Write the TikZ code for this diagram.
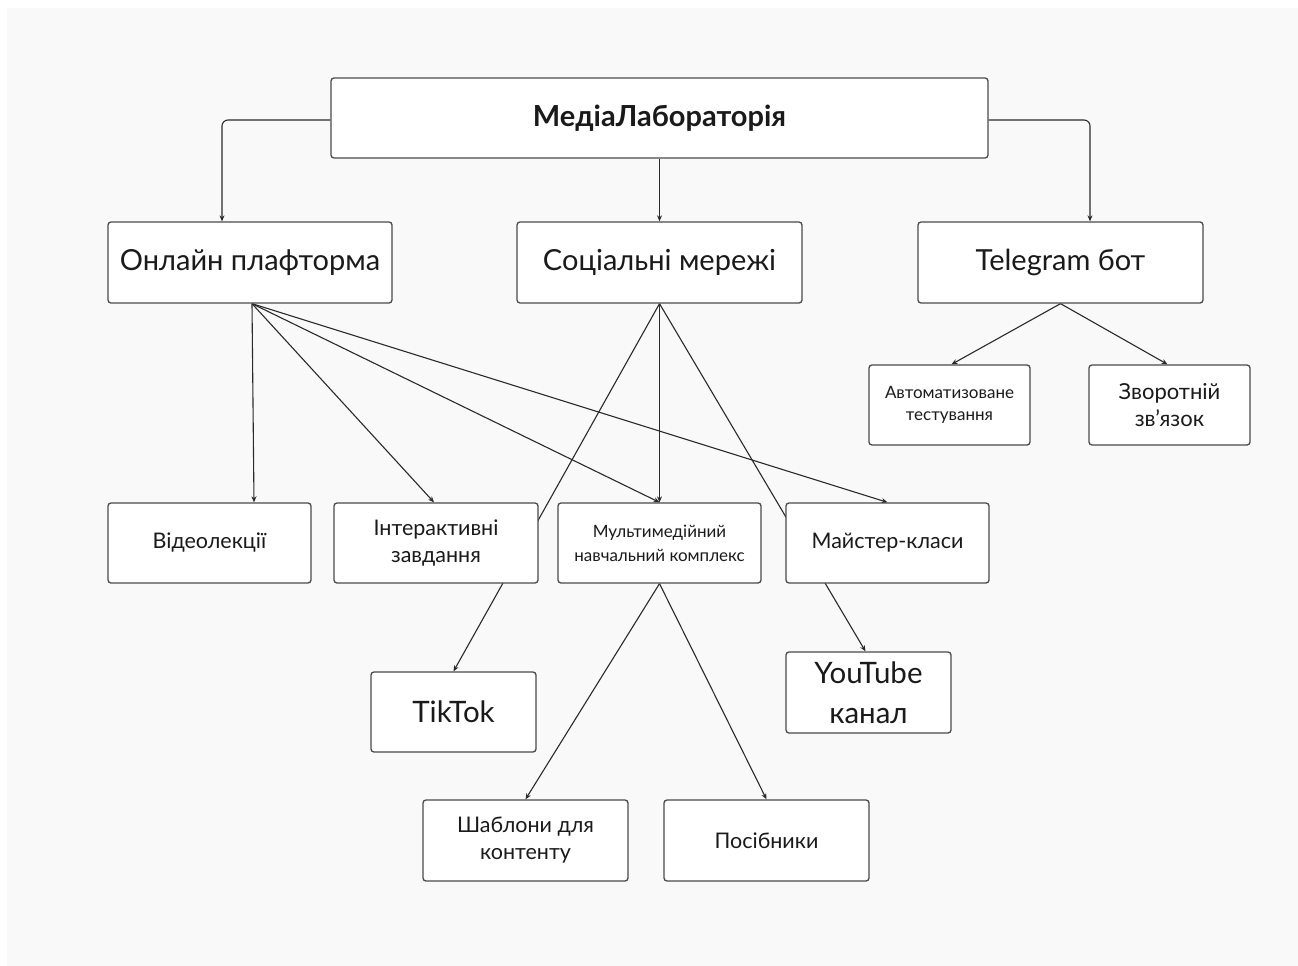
\documentclass[tikz,border=0pt]{standalone}
\usepackage{fontspec}
\setmainfont{Lato}
\usetikzlibrary{arrows.meta,calc}
\pgfdeclarelayer{back}
\pgfdeclarelayer{bg}
\pgfsetlayers{back,bg,main}
\definecolor{pagegray}{HTML}{F9F9F9}
\definecolor{boxline}{HTML}{4A4A4A}
\definecolor{txt}{HTML}{1A1A1A}
\definecolor{arrowc}{HTML}{2A2A2A}
\begin{document}
\begin{tikzpicture}[x=1pt,y=-1pt,
  box/.style={draw=boxline, line width=1.3pt, fill=white, rounded corners=3pt, text=txt, align=center, inner sep=0pt},
  arr/.style={draw=arrowc, line width=1.1pt, -{Stealth[length=6pt,width=5pt]}},
  fA/.style={font=\fontsize{29}{35}\selectfont},
  fB/.style={font=\fontsize{29.5}{40}\selectfont},
  fC/.style={font=\fontsize{21.5}{27}\selectfont},
  fD/.style={font=\fontsize{17}{24}\selectfont},
  fE/.style={font=\fontsize{17}{22}\selectfont},
  fZ/.style={font=\fontsize{22}{27}\selectfont},
  ]
\useasboundingbox (0,0) rectangle (1298,966);
\begin{pgfonlayer}{back}
\fill[white] (0,0) rectangle (1298,966);
\fill[pagegray] (7,8) rectangle (1298,966);
\end{pgfonlayer}

\node[box, minimum width=657pt, minimum height=80pt, font=\bfseries\fontsize{29}{34}\selectfont] (media) at (659.5,118) {МедіаЛабораторія};

\node[box, fA, minimum width=284pt, minimum height=81pt] (onl) at (250,262.5) {Онлайн плафторма};
\node[box, fA, minimum width=285pt, minimum height=81pt] (soc) at (659.5,262.5) {Соціальні мережі};
\node[box, fA, minimum width=285pt, minimum height=81pt] (tg) at (1060.5,262.5) {Telegram бот};

\node[box, fE, minimum width=161pt, minimum height=80pt] (auto) at (949.5,405) {Автоматизоване\\тестування};
\node[box, fZ, minimum width=161pt, minimum height=80pt] (zv) at (1169.5,405) {Зворотній\\зв’язок};

\node[box, fC, minimum width=203pt, minimum height=80pt] (video) at (209.5,543) {Відеолекції};
\node[box, fC, minimum width=204pt, minimum height=80pt] (inter) at (436,543) {Інтерактивні\\завдання};
\node[box, fD, minimum width=203pt, minimum height=80pt] (multi) at (659.5,543) {Мультимедійний\\навчальний комплекс};
\node[box, fC, minimum width=203pt, minimum height=80pt] (master) at (887.5,543) {Майстер-класи};

\node[box, fB, minimum width=165pt, minimum height=80pt] (tiktok) at (453.5,712) {TikTok};
\node[box, fB, minimum width=165pt, minimum height=81pt] (yt) at (868.5,692.5) {YouTube\\канал};

\node[box, fC, minimum width=205pt, minimum height=81pt] (shab) at (525.5,840.5) {Шаблони для\\контенту};
\node[box, fC, minimum width=205pt, minimum height=81pt] (pos) at (766.5,840.5) {Посібники};

\begin{pgfonlayer}{bg}
\draw[arr, rounded corners=6pt] ($(media.west)+(0,2)$) -| ($(onl.north)+(-28,0)$);
\draw[arr] (media.south) -- (soc.north);
\draw[arr, rounded corners=6pt] ($(media.east)+(0,2)$) -| ($(tg.north)+(29.5,0)$);

\draw[arr] ($(onl.south)+(2,0)$) -- ($(onl.south |- video.north)+(4,0)$);
\draw[arr] ($(onl.south)+(2,0)$) -- ($(inter.north)+(-2,0)$);
\draw[arr] ($(onl.south)+(2,0)$) -- (multi.north);
\draw[arr] ($(onl.south)+(2,0)$) -- (master.north);

\draw[arr] (soc.south) -- (tiktok.north);
\draw[arr] (soc.south) -- (multi.north);
\draw[arr] (soc.south) -- ($(yt.north)+(-3,0)$);

\draw[arr] (multi.south) -- (shab.north);
\draw[arr] (multi.south) -- (pos.north);

\draw[arr] (tg.south) -- ($(auto.north)+(2,0)$);
\draw[arr] (tg.south) -- ($(zv.north)+(-2,0)$);
\end{pgfonlayer}
\end{tikzpicture}
\end{document}
